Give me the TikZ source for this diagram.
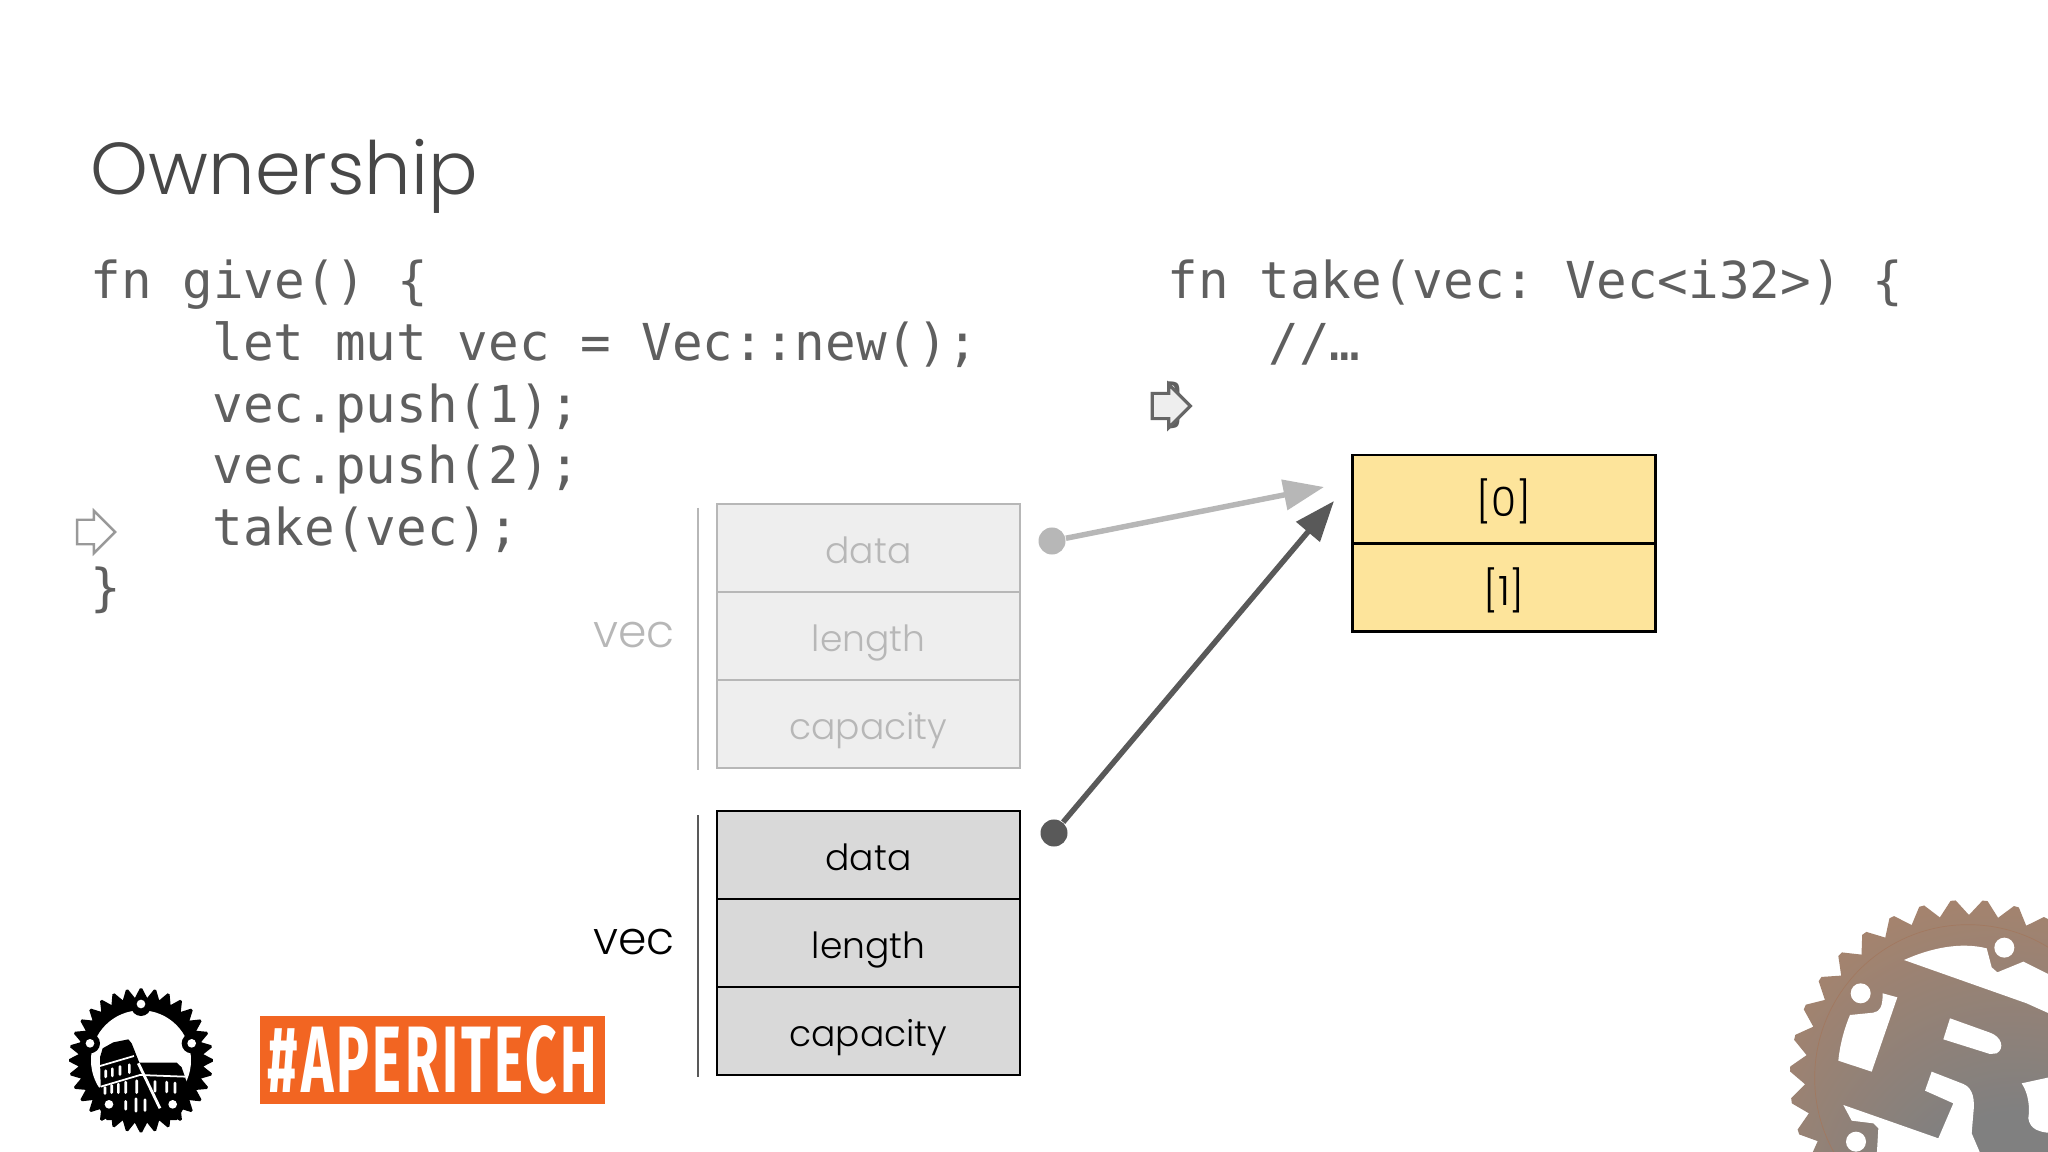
\documentclass[tikz,border=0pt]{standalone}
\usepackage{fontspec}
\usepackage{graphicx}
\usetikzlibrary{arrows.meta, shapes.arrows}

\newfontfamily\quickfont{Poppins Light}
\newfontfamily\codefont{DejaVu Sans Mono}
\newfontfamily\tagfont[LetterSpace=6]{Fira Sans}
\frenchspacing

\definecolor{codegrey}{HTML}{5F5F5F}
\definecolor{oldgrey}{HTML}{B7B7B7}
\definecolor{oldfill}{HTML}{EEEEEE}
\definecolor{newfill}{HTML}{D9D9D9}
\definecolor{darkline}{HTML}{595959}
\definecolor{heapfill}{HTML}{FDE49B}
\definecolor{tagorange}{HTML}{F26522}
\definecolor{rustgrey}{HTML}{808080}
\definecolor{rustbrown}{HTML}{B08468}

\pgfdeclareradialshading{rustgrad}{\pgfpoint{9bp}{-26bp}}{%
  color(0bp)=(rustgrey); color(16bp)=(rustgrey);
  color(46bp)=(rustbrown); color(80bp)=(rustbrown)}

\tikzset{
  code/.style={anchor=base west, inner sep=0pt, text=codegrey,
    font=\codefont\fontsize{14.47}{17}\selectfont},
  cell/.style={draw, minimum width=3.03cm, minimum height=0.88cm, inner sep=0pt,
    line width=0.7pt, text height=0.4cm, text depth=0.1cm,
    font=\quickfont\fontsize{10.25}{13}\selectfont},
  oldcell/.style={cell, draw=oldgrey, fill=oldfill, text=oldgrey},
  newcell/.style={cell, draw=black, fill=newfill, text=black},
  heapcell/.style={cell, draw=black, fill=heapfill, text=black, text height=0.45cm,
    font=\quickfont\fontsize{11.5}{13}\selectfont},
  veclabel/.style={anchor=base, inner sep=0pt,
    font=\quickfont\fontsize{13}{17}\selectfont},
  ptrdot/.style={circle, minimum size=0.27cm, inner sep=0pt},
  ptrline/.style={line width=1.55pt, -{Triangle[length=11.5pt, width=8.5pt]}},
  pointer/.style={single arrow, minimum height=0.38cm, inner xsep=0pt, inner ysep=0.11cm,
    single arrow head extend=0.09cm, shape border rotate=0},
}

% style, centre x, centre y, tip radius, valley radius, teeth, phase
\newcommand{\gearwheel}[7]{
  \path [#1] ({#2+#5*cos(#7)}, {#3+#5*sin(#7)})
    \foreach \t in {1,...,#6} {
      -- ({#2+#4*cos(#7+(\t-.58)*360/#6)}, {#3+#4*sin(#7+(\t-.58)*360/#6)})
      -- ({#2+#4*cos(#7+(\t-.42)*360/#6)}, {#3+#4*sin(#7+(\t-.42)*360/#6)})
      -- ({#2+#5*cos(#7+\t*360/#6)}, {#3+#5*sin(#7+\t*360/#6)})
    } -- cycle;
}

\begin{document}
\begin{tikzpicture}[x=0.01cm, y=-0.01cm]
  \useasboundingbox (0, 0) rectangle (2048, 1152);
  \fill [white] (0, 0) rectangle (2048, 1152);

  % Title
  \node [anchor=base west, inner sep=0pt, text=black!72,
         font=\quickfont\fontsize{20.9}{26}\selectfont] (title) at (90, 195) {Ownership};

  % give
  \node [code] (give1) at (90, 299) {fn give() \{};
  \node [code] (give2) at (212, 361) {let mut vec = Vec::new();};
  \node [code] (give3) at (212, 423) {vec.push(1);};
  \node [code] (give4) at (212, 484) {vec.push(2);};
  \node [code] (give5) at (212, 546) {take(vec);};
  \node [code] (give6) at (90, 606) {\}};

  % take
  \node [code] (take1) at (1167, 299) {fn take(vec: Vec<i32>) \{};
  \node [code] (take2) at (1268, 361) {//…};
  \node [code] (take3) at (1162, 421) {\}};

  % Pointers
  \node [pointer, draw=black!40, fill=white, line width=0.7pt] (cursorgive) at (90, 532) {};
  \node [pointer, draw=black!60, fill=oldfill, line width=0.9pt] (cursortake) at (1165, 406) {};

  % Moved vec
  \node [oldcell] (olddata) at (868.5, 548) {data};
  \node [oldcell] (oldlength) at (868.5, 636) {length};
  \node [oldcell] (oldcapacity) at (868.5, 724) {capacity};
  \node [veclabel, text=oldgrey] (oldvec) at (634, 647) {vec};
  \coordinate (oldbartop) at (698, 508);
  \coordinate (oldbarbot) at (698, 770);
  \draw [oldgrey, line width=0.7pt] (oldbartop) -- (oldbarbot);

  % New vec
  \node [newcell] (newdata) at (868.5, 855) {data};
  \node [newcell] (newlength) at (868.5, 943) {length};
  \node [newcell] (newcapacity) at (868.5, 1031) {capacity};
  \node [veclabel, text=black] (newvec) at (634, 954) {vec};
  \coordinate (newbartop) at (698, 815);
  \coordinate (newbarbot) at (698, 1077);
  \draw [darkline, line width=0.7pt] (newbartop) -- (newbarbot);

  % Heap
  \node [heapcell] (heap0) at (1504, 499) {[0]};
  \node [heapcell] (heap1) at (1504, 587.5) {[1]};

  % Edges
  \node [ptrdot, fill=oldgrey] (olddot) at (1052, 541) {};
  \node [ptrdot, fill=darkline] (newdot) at (1054, 833) {};
  \coordinate (oldtip) at (1324, 487);
  \coordinate (newtip) at (1334, 501);
  \draw [ptrline, color=oldgrey] (olddot) -- (oldtip);
  \draw [ptrline, color=darkline] (newdot) -- (newtip);

  % Hashtag
  \node [fill=tagorange, text=white, minimum width=3.45cm, minimum height=0.88cm, inner sep=0pt,
         font=\tagfont\bfseries] (tag) at (432.5, 1060)
         {\resizebox{3.29cm}{0.67cm}{\#APERITECH}};

  % Small gear
  \begin{scope}[shift={(60, 980)}, scale=1/3]
    \gearwheel{fill=black}{243}{241}{216}{188}{32}{-95.6}
    \fill [white] (243, 241) circle [radius=150];
    \fill [black] (243, 78) circle [radius=30];
    \fill [black] (90, 190) circle [radius=30];
    \fill [black] (395, 190) circle [radius=30];
    % Colosseum
    \fill [black] (120, 232) -- (128, 205) -- (160, 187) -- (205, 178) -- (215, 190)
      -- (238, 248) -- (350, 248) -- (365, 262) -- (378, 300) -- (395, 345)
      -- (350, 420) -- (140, 420) -- (92, 345) -- (122, 320) -- cycle;
    \draw [white, line width=0.5pt] (120, 258) -- (222, 228);
    \draw [white, line width=0.5pt] (122, 320) -- (240, 285) -- (375, 290);
    \draw [white, line width=0.8pt] (235, 250) -- (300, 385);
    \foreach \wx/\wt/\wb in {137/268/295, 157/262/292, 180/255/288, 208/250/282,
                             135/318/345, 155/312/342, 175/308/342, 197/302/342, 230/298/342,
                             285/300/338, 320/302/340, 345/305/342,
                             197/360/392, 228/352/398, 255/355/396}
      \fill [white, rounded corners=0.4pt] ({\wx-4}, \wb) rectangle ({\wx+4}, \wt);
    \foreach \hx/\hy in {243/72, 90/190, 395/190, 147/373, 338/373}
      \fill [white] (\hx, \hy) circle [radius=13];
  \end{scope}

  % Big gear
  \begin{scope}
    \clip (0, 0) rectangle (2048, 1152);
    \begin{scope}[shift={(1760, 880)}, scale=1/3]
      \gearwheel{shade, shading=rustgrad}{624}{594}{534}{489}{35}{-99.94}
      \draw [rustbrown!92!black, line width=0.2pt] (624, 594) circle [radius=460];
      \fill [white] (432, 240) .. controls (510, 205) and (600, 185) .. (680, 205)
        -- (695, 262) -- (712, 277) -- (790, 245) -- (900, 300) -- (900, 415) -- (800, 370) -- cycle;
      \fill [white] (368, 340) -- (412, 352) -- (335, 575) -- (235, 542)
        .. controls (240, 490) and (255, 440) .. (270, 405) -- (340, 398)
        .. controls (360, 395) and (368, 380) .. (368, 340) -- cycle;
      \fill [white] (570, 415) -- (690, 458) .. controls (725, 470) and (735, 505) .. (710, 520)
        -- (690, 522) -- (550, 478) -- cycle;
      \fill [white] (250, 675) -- (535, 775) -- (580, 670) -- (495, 632) -- (515, 575) -- (610, 612)
        .. controls (640, 625) and (645, 660) .. (640, 700) -- (635, 760) -- (665, 830)
        -- (350, 830) -- (355, 745) -- (340, 730) -- (275, 722) -- cycle;
      \fill [white] (900, 585) -- (785, 610) .. controls (805, 640) and (810, 680) .. (805, 715)
        .. controls (810, 745) and (830, 760) .. (900, 760) -- cycle;
      \foreach \hx/\hy in {733/203, 302/340, 288/785}
        \fill [white] (\hx, \hy) circle [radius=30];
    \end{scope}
  \end{scope}
\end{tikzpicture}
\end{document}
